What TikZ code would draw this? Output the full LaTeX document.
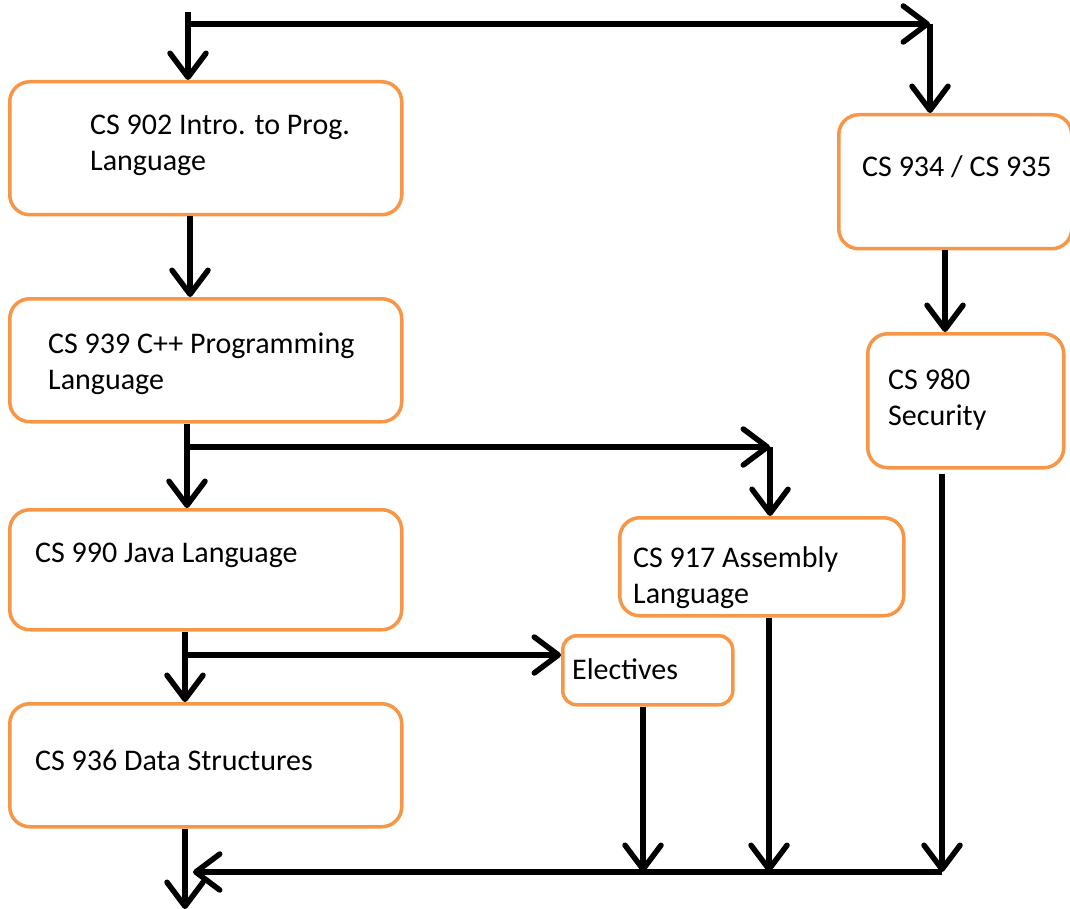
\documentclass[tikz,border=0pt]{standalone}
\usepackage{fontspec}
\setmainfont{Carlito}
\usetikzlibrary{arrows.meta}
\definecolor{boxorange}{RGB}{247,150,70}
\begin{document}
\begin{tikzpicture}[x=1pt,y=-1pt,
  box/.style={draw=boxorange, line width=3.5pt, rounded corners=20pt, fill=white,
              anchor=north west, inner sep=0pt},
  txt/.style={anchor=base west, align=left, inner sep=0pt,
              font=\fontsize{30}{36}\selectfont},
  arr/.style={line width=5.5pt, -{Straight Barb[length=24pt,width=36pt,round]}}]
\useasboundingbox (0,0) rectangle (1070,909);
% boxes
\node[box, minimum width=392pt, minimum height=133pt] (b902) at (8,80) {};
\node[box, minimum width=392pt, minimum height=123pt] (b939) at (8,297) {};
\node[box, minimum width=392pt, minimum height=120pt] (b990) at (8,508) {};
\node[box, minimum width=392pt, minimum height=123pt] (b936) at (8,702) {};
\node[box, minimum width=233pt, minimum height=134pt] (b934) at (837,113) {};
\node[box, minimum width=196pt, minimum height=134pt] (b980) at (866,332) {};
\node[box, minimum width=284pt, minimum height=98pt] (b917) at (618,516) {};
\node[box, minimum width=170pt, minimum height=69pt, rounded corners=14pt] (elec) at (561,634) {};
% texts (base anchor = baseline of last line)
\node[txt] (t902) at (90,171) {CS 902 Intro. to Prog.\\Language};
\node[txt] (t939) at (48,389) {CS 939 C++ Programming\\Language};
\node[txt] (t990) at (35,562) {CS 990 Java Language};
\node[txt] (t936) at (35,770) {CS 936 Data Structures};
\node[txt] (t934) at (862,177) {CS 934 / CS 935};
\node[txt] (t980) at (888,425) {CS 980\\Security};
\node[txt] (t917) at (633,603) {CS 917 Assembly\\Language};
\node[txt] (telec) at (572,679) {Electives};
% top connectors
\coordinate (s0) at (188,12);
\coordinate (j1) at (188,24);
\coordinate (j2) at (930,24);
\draw[arr] (s0) -- (s0 |- b902.north);
\draw[arr] (j1) -- (j2);
\draw[arr] (j2) -- (j2 |- b934.north);
% left column
\coordinate (c1) at (190,0);
\draw[arr] (c1 |- b902.south) -- (c1 |- b939.north);
\coordinate (j3) at (187,447);
\coordinate (j4) at (770,447);
\draw[arr] (j3 |- b939.south) -- (j3 |- b990.north);
\draw[arr] (j3) -- (j4);
\draw[arr] (j4) -- (j4 |- b917.north);
\coordinate (j5) at (185,655);
\draw[arr] (j5 |- b990.south) -- (j5 |- b936.north);
\draw[arr] (j5) -- (j5 -| elec.west);
\coordinate (out) at (185,909);
\draw[arr] (out |- b936.south) -- (out);
% right column
\coordinate (c2) at (945,0);
\draw[arr] (c2 |- b934.south) -- (c2 |- b980.north);
% bottom collector
\coordinate (j6) at (942,872);
\coordinate (j7) at (769,872);
\coordinate (j8) at (643,872);
\coordinate (jend) at (193,872);
\draw[arr] (j6 |- b980.south) ++(0,4) -- (j6);
\draw[arr] (j7 |- b917.south) -- (j7);
\draw[arr] (j8 |- elec.south) -- (j8);
\draw[arr] (j6) -- (jend);
\end{tikzpicture}
\end{document}
